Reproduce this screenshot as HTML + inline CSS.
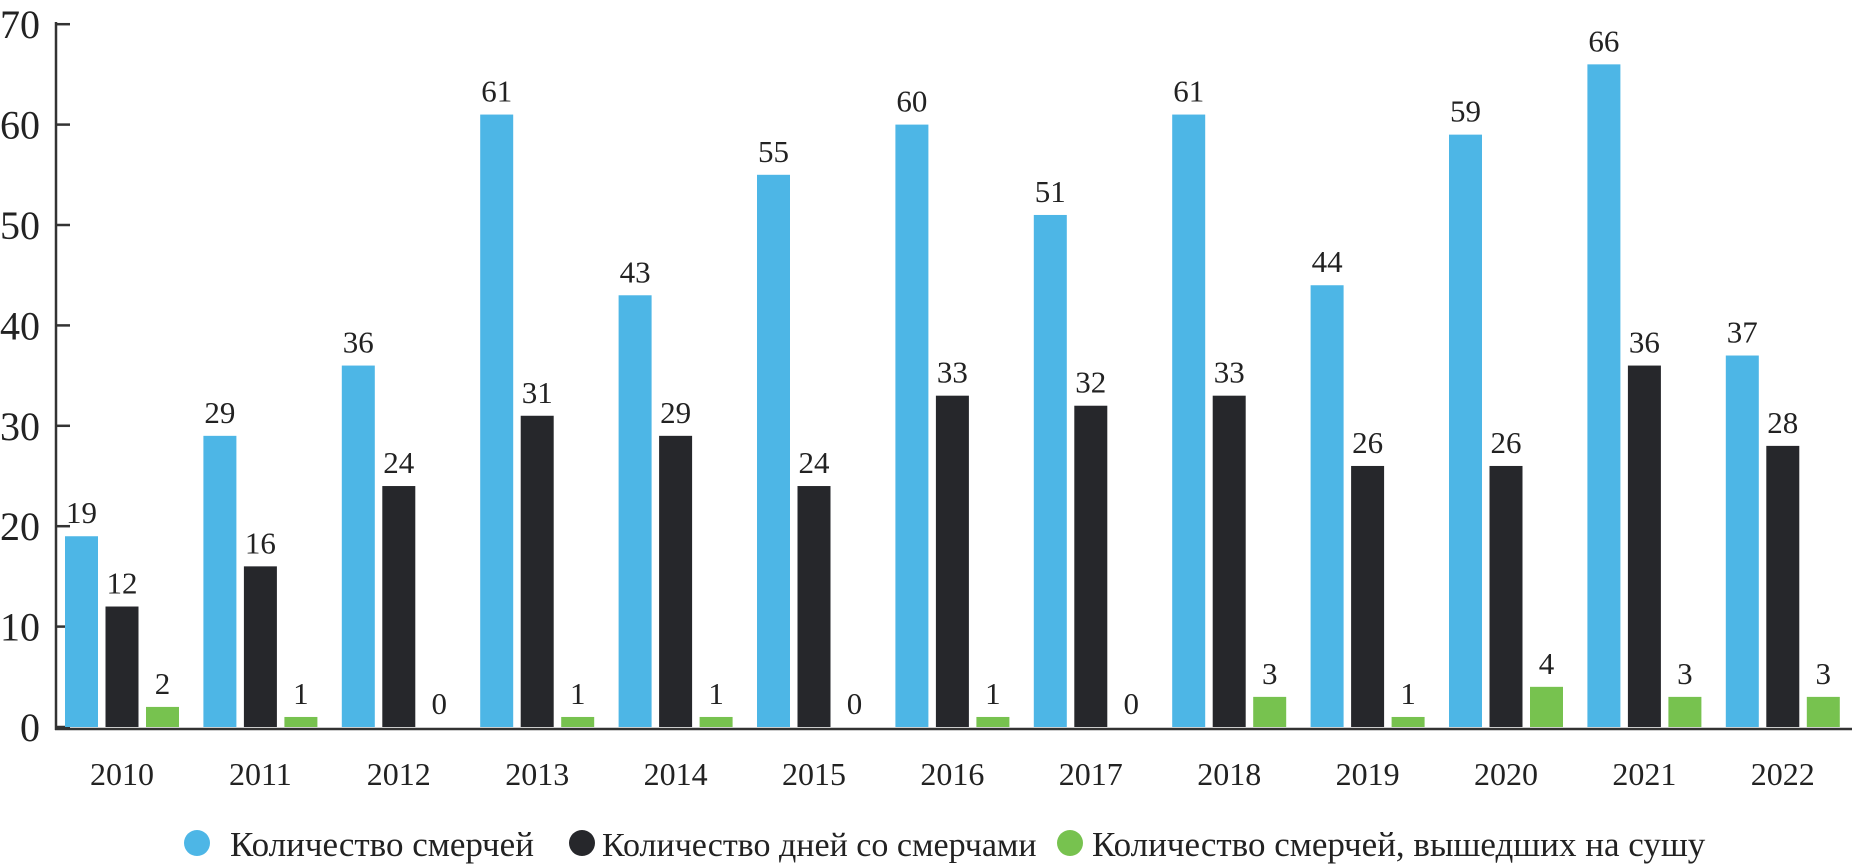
<!DOCTYPE html>
<html><head><meta charset="utf-8"><style>
html,body{margin:0;padding:0;background:#fff;}
svg{display:block;font-family:"Liberation Serif",serif;}
</style></head><body>
<svg id="chart" width="1857" height="866" viewBox="0 0 1857 866" xmlns="http://www.w3.org/2000/svg">
<g id="axes"></g>
<g id="bars"></g>
<g id="legend">
  <g>
    <circle cx="197" cy="843" r="13" fill="#4db6e6"/>
    <text x="230" y="856" font-size="35" fill="#222">Количество смерчей</text>
  </g>
  <g>
    <circle cx="582" cy="843" r="13" fill="#26272b"/>
    <text x="602" y="856" font-size="34" fill="#222">Количество дней со смерчами</text>
  </g>
  <g>
    <circle cx="1070" cy="843" r="13" fill="#77c24f"/>
    <text x="1092" y="856" font-size="35" fill="#222">Количество смерчей, вышедших на сушу</text>
  </g>
</g>
</svg>
<script>
const years = ["2010","2011","2012","2013","2014","2015","2016","2017","2018","2019","2020","2021","2022"];
const tornadoes = [19,29,36,61,43,55,60,51,61,44,59,66,37];
const tornadoDays = [12,16,24,31,29,24,33,32,33,26,26,36,28];
const landfall = [2,1,0,1,1,0,1,0,3,1,4,3,3];
const yTicks = [0,10,20,30,40,50,60,70];

const NS = "http://www.w3.org/2000/svg";
const y0 = 727, pxPerUnit = 10.04;
function yScale(v){ return y0 - v*pxPerUnit; }
function xGroup(i){ return 65 + i*138.4; }
const barW = 33, step = 40.5;
const series = [
  {vals: tornadoes, color: "#4db6e6", name: "tornadoes"},
  {vals: tornadoDays, color: "#26272b", name: "tornado-days"},
  {vals: landfall, color: "#77c24f", name: "landfall"}
];
function mk(tag, attrs, parent){
  const e = document.createElementNS(NS, tag);
  for (const k in attrs) e.setAttribute(k, attrs[k]);
  parent.appendChild(e);
  return e;
}
const axes = document.getElementById("axes");
const bars = document.getElementById("bars");
const yl = mk("line", {x1:56, y1:22, x2:56, y2:730, stroke:"#333", "stroke-width":2.5}, axes);


const xl = mk("line", {x1:55, y1:729, x2:1852, y2:729, stroke:"#333", "stroke-width":2.5}, axes);


yTicks.forEach(t => {
  const y = yScale(t);
  const tk = mk("line", {x1:56, y1:y, x2:70, y2:y, stroke:"#333", "stroke-width":2.5}, axes);
  
  
  const tl = mk("text", {x:40, y:y+14, "font-size":40, "text-anchor":"end", fill:"#222"}, axes);
  tl.textContent = t;
  
  
});
years.forEach((yr, i) => {
  const gx = xGroup(i);
  series.forEach((s, j) => {
    const v = s.vals[i];
    const x = gx + j*step;
    const top = yScale(v);
    if (v > 0) {
      const r = mk("rect", {x:x, y:top, width:barW, height:y0-top, fill:s.color}, bars);
      
      
    }
    const t = mk("text", {x:x+barW/2, y:top-13, "font-size":31, "text-anchor":"middle", fill:"#222"}, bars);
    t.textContent = v;
    
    
  });
  const xlab = mk("text", {x:gx + (2*step+barW)/2, y:785, "font-size":32, "text-anchor":"middle", fill:"#222"}, axes);
  xlab.textContent = yr;
  
  
});
</script>
</body></html>
